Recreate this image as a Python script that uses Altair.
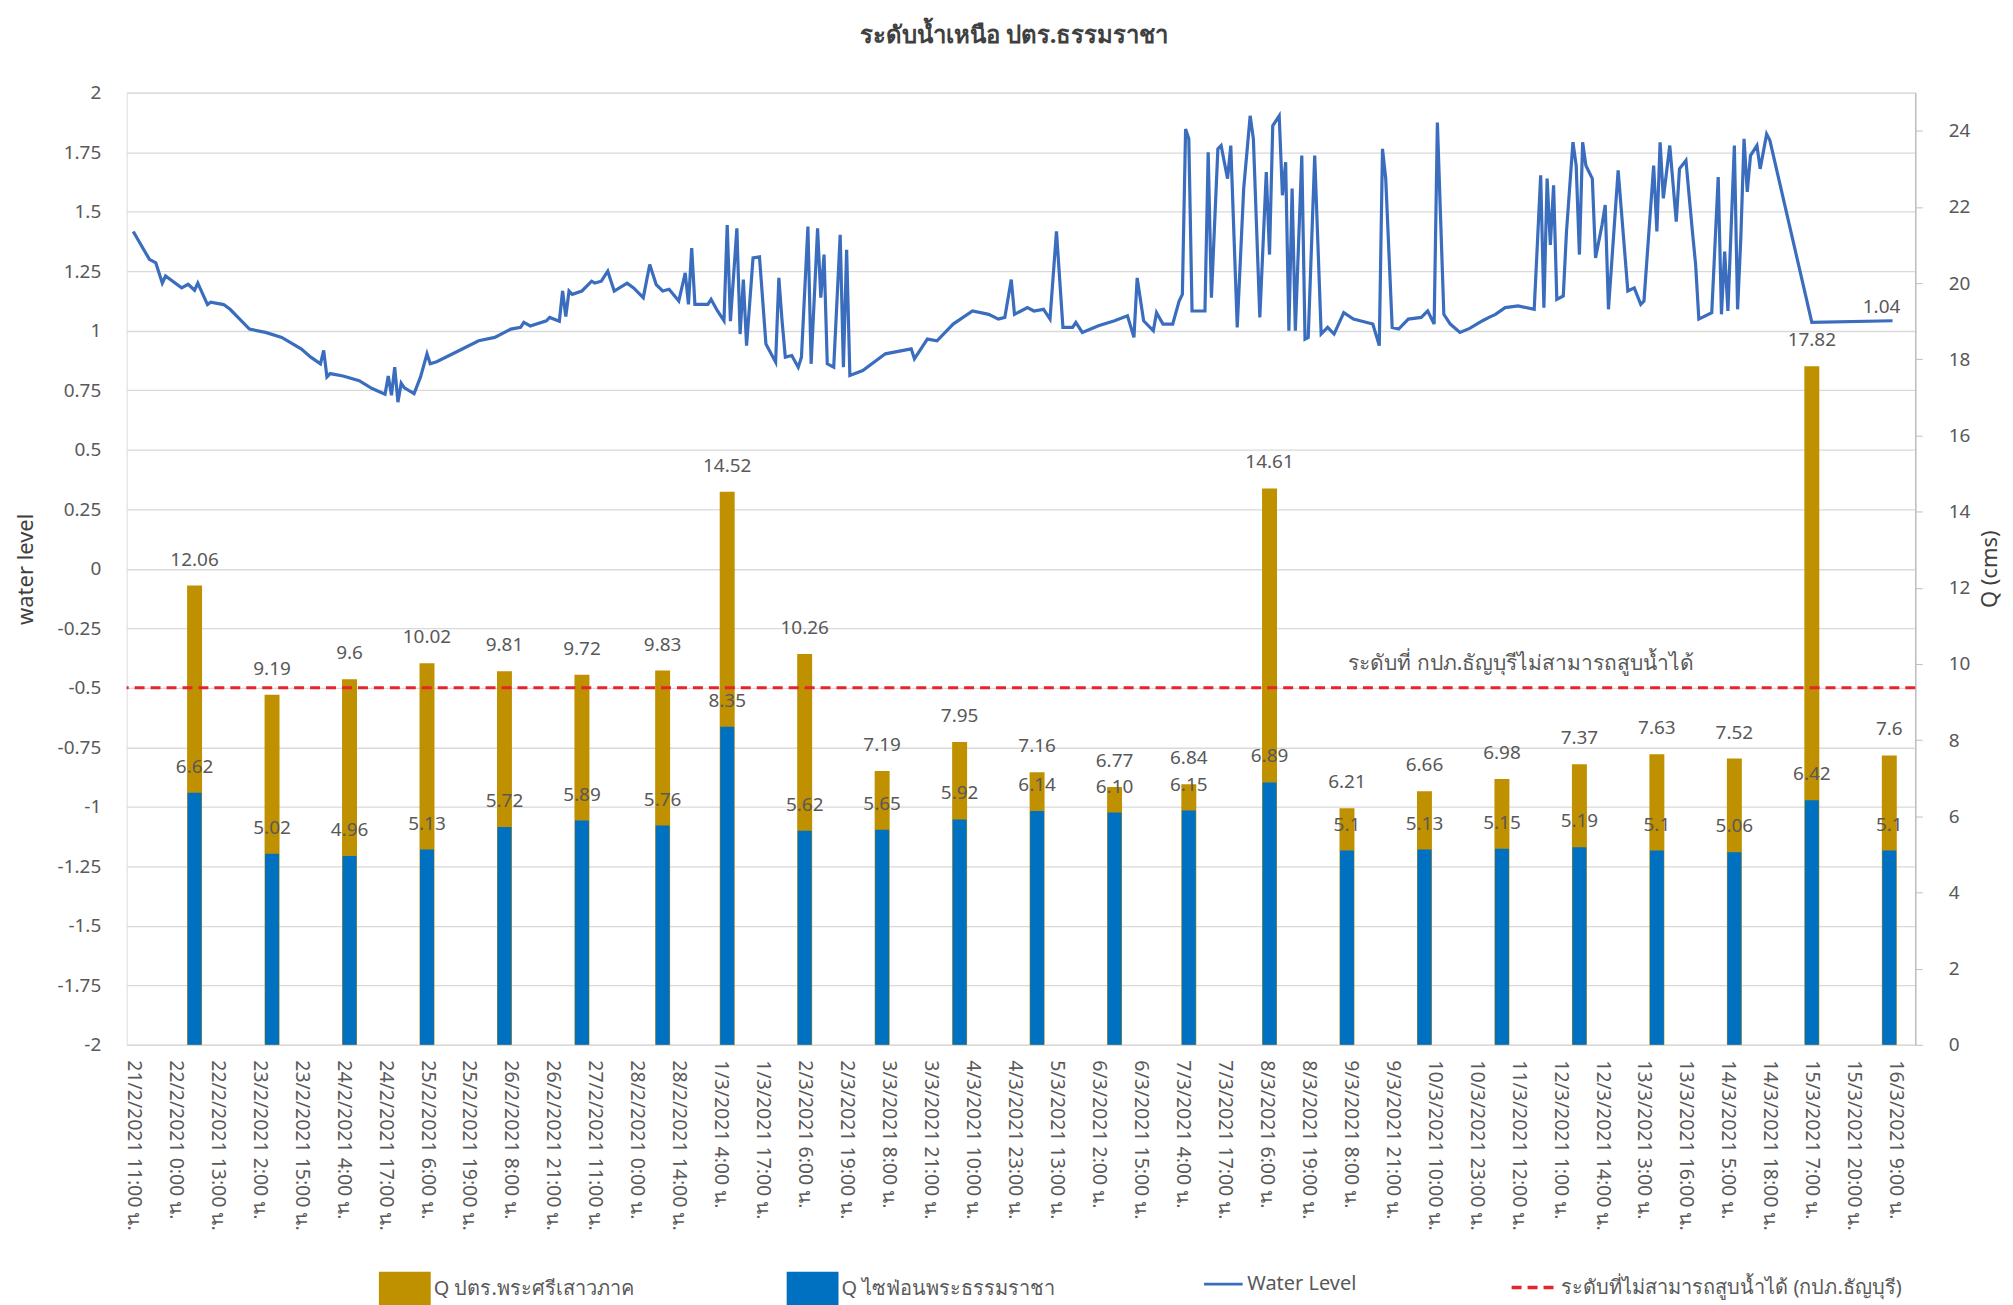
import altair as alt
import pandas as pd

# ---------------- data ----------------
title_text = "ระดับน้ำเหนือ ปตร.ธรรมราชา"
gold_name = "Q ปตร.พระศรีเสาวภาค"
blue_name = "Q ไซฟ่อนพระธรรมราชา"
wl_name = "Water Level"
thr_name = "ระดับที่ไม่สามารถสูบน้ำได้ (กปภ.ธัญบุรี)"
annot_text = "ระดับที่ กปภ.ธัญบุรีไม่สามารถสูบน้ำได้"

# category axis: one category per hourly reading, every 13th labelled
x_labels = [
    "21/2/2021 11:00 น.", "22/2/2021 0:00 น.", "22/2/2021 13:00 น.", "23/2/2021 2:00 น.",
    "23/2/2021 15:00 น.", "24/2/2021 4:00 น.", "24/2/2021 17:00 น.", "25/2/2021 6:00 น.",
    "25/2/2021 19:00 น.", "26/2/2021 8:00 น.", "26/2/2021 21:00 น.", "27/2/2021 11:00 น.",
    "28/2/2021 0:00 น.", "28/2/2021 14:00 น.", "1/3/2021 4:00 น.", "1/3/2021 17:00 น.",
    "2/3/2021 6:00 น.", "2/3/2021 19:00 น.", "3/3/2021 8:00 น.", "3/3/2021 21:00 น.",
    "4/3/2021 10:00 น.", "4/3/2021 23:00 น.", "5/3/2021 13:00 น.", "6/3/2021 2:00 น.",
    "6/3/2021 15:00 น.", "7/3/2021 4:00 น.", "7/3/2021 17:00 น.", "8/3/2021 6:00 น.",
    "8/3/2021 19:00 น.", "9/3/2021 8:00 น.", "9/3/2021 21:00 น.", "10/3/2021 10:00 น.",
    "10/3/2021 23:00 น.", "11/3/2021 12:00 น.", "12/3/2021 1:00 น.", "12/3/2021 14:00 น.",
    "13/3/2021 3:00 น.", "13/3/2021 16:00 น.", "14/3/2021 5:00 น.", "14/3/2021 18:00 น.",
    "15/3/2021 7:00 น.", "15/3/2021 20:00 น.", "16/3/2021 9:00 น.",
]
label_step = 13
n_categories = 551

# daily discharge bars (category index of each bar)
bar_idx = [19, 43, 67, 91, 115, 139, 164, 184, 208, 232, 256, 280,
           304, 327, 352, 376, 400, 424, 448, 472, 496, 520, 544]
q_gold = [12.06, 9.19, 9.6, 10.02, 9.81, 9.72, 9.83, 14.52, 10.26, 7.19, 7.95, 7.16,
          6.77, 6.84, 14.61, 6.21, 6.66, 6.98, 7.37, 7.63, 7.52, 17.82, 7.6]
q_blue = ["6.62", "5.02", "4.96", "5.13", "5.72", "5.89", "5.76", "8.35", "5.62", "5.65",
          "5.92", "6.14", "6.10", "6.15", "6.89", "5.1", "5.13", "5.15", "5.19", "5.1",
          "5.06", "6.42", "5.1"]

# water level readings (category index, level)
wl_idx = [0, 5, 7, 9, 10, 15, 17, 19, 20, 23, 24, 28, 30, 36, 41, 46, 52, 55, 58, 59,
          60, 61, 65, 70, 74, 78, 79, 80, 81, 82, 83, 84, 87, 89, 91, 92, 94, 101, 107, 112,
          117, 120, 121, 123, 128, 129, 132, 133, 134, 135, 136,
          139, 142, 143, 145, 147, 149, 153, 155, 158, 160, 162, 164, 166, 169, 171, 172, 173,
          174, 178, 179, 181, 183, 184, 185, 187, 188, 189, 190, 192, 194, 196, 199, 200, 201,
          202, 204, 206, 207, 209, 210, 212, 213, 214, 215, 217, 219, 220, 221, 222, 226, 233,
          241, 242, 246, 249, 254, 260, 265, 268, 270, 272, 273, 275,
          277, 279, 282, 284, 286, 288, 291, 292, 294, 299, 304, 308, 310, 311, 313, 316, 317,
          319, 322, 324, 325, 326, 327, 328, 332, 333, 334, 336, 337, 339, 340, 342, 344, 346,
          347, 349, 351, 352, 353, 355, 356, 357, 358, 359, 360, 362, 363, 364, 366, 367, 368,
          370, 372, 375, 378, 384, 386, 387, 388, 390, 392, 395, 399, 401, 403, 404, 405, 406,
          408, 411, 414,
          418, 420, 422, 425, 429, 434, 436, 437, 438, 439, 440, 441, 443, 444, 446, 447, 448,
          449, 450, 452, 453, 455, 456, 457, 460, 463, 465, 467, 468, 471, 472, 473, 474, 476,
          478, 479, 481, 483, 484, 485, 489, 491, 492, 493, 494, 496, 497, 498, 499, 500, 501,
          503, 504, 506, 507, 520, 545]
wl_val = [1.417, 1.30, 1.285, 1.20, 1.23, 1.18, 1.195, 1.17, 1.20, 1.11, 1.12, 1.11, 1.09,
          1.007, 0.993, 0.972, 0.924, 0.889, 0.861, 0.917, 0.806, 0.82, 0.81, 0.79, 0.757,
          0.733, 0.81, 0.729, 0.847, 0.70, 0.78, 0.76, 0.736, 0.806, 0.903, 0.861, 0.87, 0.917,
          0.958, 0.972, 1.007, 1.014, 1.035, 1.02, 1.042, 1.056, 1.04, 1.167, 1.06, 1.167, 1.153,
          1.167, 1.208, 1.20, 1.208, 1.25, 1.167, 1.20, 1.18, 1.139, 1.278, 1.194, 1.167, 1.174,
          1.125, 1.243, 1.111, 1.347, 1.111, 1.111, 1.132, 1.083, 1.042, 1.444, 1.04, 1.43,
          0.986, 1.215, 0.937, 1.306, 1.31, 0.944, 0.868, 1.222, 1.04, 0.889, 0.896, 0.847,
          0.889, 1.4375, 0.861, 1.43, 1.139, 1.32, 0.861, 0.847, 1.403, 0.847, 1.34, 0.8125,
          0.833, 0.903, 0.924, 0.882, 0.965, 0.958, 1.028, 1.083, 1.069, 1.049, 1.056, 1.215,
          1.069, 1.083,
          1.097, 1.083, 1.09, 1.049, 1.417, 1.014, 1.014, 1.035, 0.993, 1.021, 1.042, 1.0625,
          0.972, 1.222, 1.042, 1.0, 1.076, 1.028, 1.028, 1.125, 1.153, 1.847, 1.806, 1.083,
          1.083, 1.75, 1.139, 1.764, 1.778, 1.639, 1.778, 1.014, 1.597, 1.903, 1.806, 1.056,
          1.667, 1.32, 1.861, 1.903, 1.569, 1.708, 1.0, 1.597, 1.0, 1.736, 0.965, 0.972, 1.736,
          1.361, 0.986, 1.014, 0.986, 1.076, 1.049, 1.028, 0.9375, 1.764, 1.639, 1.014, 1.007,
          1.049, 1.056, 1.083, 1.028, 1.875, 1.472, 1.069, 1.028, 0.993, 1.01,
          1.042, 1.056, 1.069, 1.097, 1.104, 1.09, 1.653, 1.097, 1.639, 1.361, 1.611, 1.132,
          1.146, 1.417, 1.792, 1.694, 1.32, 1.792, 1.694, 1.639, 1.306, 1.444, 1.528, 1.09,
          1.674, 1.167, 1.18, 1.111, 1.125, 1.694, 1.417, 1.792, 1.556, 1.778, 1.458, 1.68,
          1.715, 1.417, 1.278, 1.049, 1.076, 1.646, 1.069, 1.333, 1.083, 1.778, 1.09, 1.389,
          1.806, 1.583, 1.736, 1.778, 1.68, 1.826, 1.80, 1.035, 1.042]
wl_last_text = "1.04"

threshold_level = -0.5
annot_idx = 430
annot_level = -0.4

left_ticks = [2, 1.75, 1.5, 1.25, 1, 0.75, 0.5, 0.25, 0, -0.25, -0.5, -0.75, -1,
              -1.25, -1.5, -1.75, -2]
right_ticks = [0, 2, 4, 6, 8, 10, 12, 14, 16, 18, 20, 22, 24]

# ---------------- styling ----------------
FONT = "Noto Sans"
GOLD = "#BF9000"
BLUE = "#0070C0"
LINE = "#3A6DBD"
RED = "#E3262B"
TXT = "#595959"
GRID = "#D9D9D9"
SWATCH = "M-1,-0.68H1V0.68H-1Z"

bars_df = pd.DataFrame({
    "idx": bar_idx * 2,
    "q": q_gold + [float(v) for v in q_blue],
    "label": [f"{v:g}" for v in q_gold] + q_blue,
    "series": [gold_name] * len(q_gold) + [blue_name] * len(q_blue),
})
gold_df = bars_df[bars_df.series == gold_name]
blue_df = bars_df[bars_df.series == blue_name]
wl_df = pd.DataFrame({"idx": wl_idx, "v": wl_val, "name": wl_name})
wl_last_df = pd.DataFrame({"idx": [wl_idx[-1]], "v": [wl_val[-1]], "t": [wl_last_text]})
thr_df = pd.DataFrame({"v": [threshold_level], "name": [thr_name]})
annot_df = pd.DataFrame({"idx": [annot_idx], "v": [annot_level], "t": [annot_text]})

tick_values = [label_step * k for k in range(len(x_labels))]
label_array = "[" + ",".join("'" + s + "'" for s in x_labels) + "]"

x_enc = alt.X(
    "idx:Q",
    scale=alt.Scale(domain=[-0.5, n_categories - 0.5], nice=False, zero=False),
    axis=alt.Axis(
        values=tick_values, labelExpr=label_array + "[round(datum.value / %d)]" % label_step,
        labelAngle=90, labelFontSize=19.5, labelColor=TXT, labelFont=FONT, labelPadding=15,
        labelOverlap=False, labelBound=False, labelFlush=False, ticks=False, grid=False,
        domain=True, domainColor=GRID, domainWidth=1.5, title=None,
    ),
)

y_left = alt.Y(
    "v:Q",
    scale=alt.Scale(domain=[-2, 2], nice=False, zero=False),
    axis=alt.Axis(
        orient="left", values=left_ticks, labelExpr="datum.value + ''", grid=True,
        gridColor=GRID, gridWidth=1.3, domain=False, ticks=False, labelPadding=26,
        labelFontSize=19, labelColor=TXT, labelFont=FONT, title="water level",
        titleFontSize=22, titleFontWeight="normal", titleColor="#404040", titleFont=FONT,
        titlePadding=20,
    ),
)

y_right = alt.Y(
    "q:Q",
    scale=alt.Scale(domain=[0, 25], nice=False, zero=True),
    axis=alt.Axis(
        orient="right", values=right_ticks, grid=False, domain=True, domainColor="#BFBFBF",
        domainWidth=1.5, ticks=True, tickColor="#BFBFBF", tickSize=7, labelPadding=26,
        labelFontSize=19, labelColor=TXT, labelFont=FONT, title="Q (cms)", titleAngle=270,
        titleFontSize=22, titleFontWeight="normal", titleColor="#404040", titleFont=FONT,
        titlePadding=32,
    ),
)

color_enc = alt.Color(
    "series:N",
    scale=alt.Scale(domain=[gold_name, blue_name], range=[GOLD, BLUE]),
    legend=alt.Legend(
        orient="none", legendX=253, legendY=1174, direction="horizontal", title=None,
        symbolType=SWATCH, symbolSize=2700, symbolStrokeWidth=0, labelFontSize=20,
        labelColor=TXT, labelFont=FONT, labelOffset=3, labelLimit=0, columnPadding=153,
        padding=0,
    ),
)

gold_bars = alt.Chart(gold_df).mark_bar(size=15).encode(x=x_enc, y=y_right, color=color_enc)
blue_bars = alt.Chart(blue_df).mark_bar(size=14).encode(x=x_enc, y=y_right, color=color_enc)
bar_text = alt.Chart(bars_df).mark_text(
    baseline="middle", align="center", dy=-26, fontSize=19, color=TXT, font=FONT
).encode(x=x_enc, y=y_right, text="label:N")

right = alt.layer(gold_bars, blue_bars, bar_text)

wl_line = alt.Chart(wl_df).mark_line(strokeWidth=3.2, interpolate="linear").encode(
    x=x_enc, y=y_left,
    stroke=alt.Stroke(
        "name:N", scale=alt.Scale(domain=[wl_name], range=[LINE]),
        legend=alt.Legend(
            orient="none", legendX=1079, legendY=1174, title=None, symbolType="stroke",
            symbolSize=1500, symbolStrokeWidth=3, labelFontSize=20, labelColor=TXT,
            labelFont=FONT, labelOffset=3, labelLimit=0, padding=0,
        ),
    ),
)
wl_label = alt.Chart(wl_last_df).mark_text(
    baseline="middle", align="center", dx=-11, dy=-14, fontSize=19, color=TXT, font=FONT
).encode(x=x_enc, y=y_left, text="t:N")

thr_rule = alt.Chart(thr_df).mark_rule(strokeWidth=3, color=RED).encode(
    y=y_left,
    strokeDash=alt.StrokeDash(
        "name:N", scale=alt.Scale(domain=[thr_name], range=[[10, 6]]),
        legend=alt.Legend(
            orient="none", legendX=1387, legendY=1174, title=None, symbolType="stroke",
            symbolSize=2000, symbolStrokeWidth=3.5, symbolStrokeColor=RED, labelFontSize=20,
            labelColor=TXT, labelFont=FONT, labelOffset=3, labelLimit=0, padding=0,
        ),
    ),
)
annot = alt.Chart(annot_df).mark_text(
    baseline="middle", align="center", fontSize=21, color=TXT, font=FONT
).encode(x=x_enc, y=y_left, text="t:N")

left = alt.layer(wl_line, wl_label, thr_rule, annot)

chart = (
    alt.layer(right, left)
    .resolve_scale(y="independent")
    .properties(
        width=1794, height=955,
        padding={"left": 6, "top": 14, "right": 4, "bottom": 4},
        title=alt.TitleParams(
            title_text, fontSize=24, fontWeight="bold", color="#404040", font=FONT,
            anchor="middle", offset=36, dx=-7,
        ),
    )
    .configure_view(stroke=None)
    .configure(background="white", font=FONT)
)

chart.save("out.html", embed_options={"renderer": "svg", "actions": False})
